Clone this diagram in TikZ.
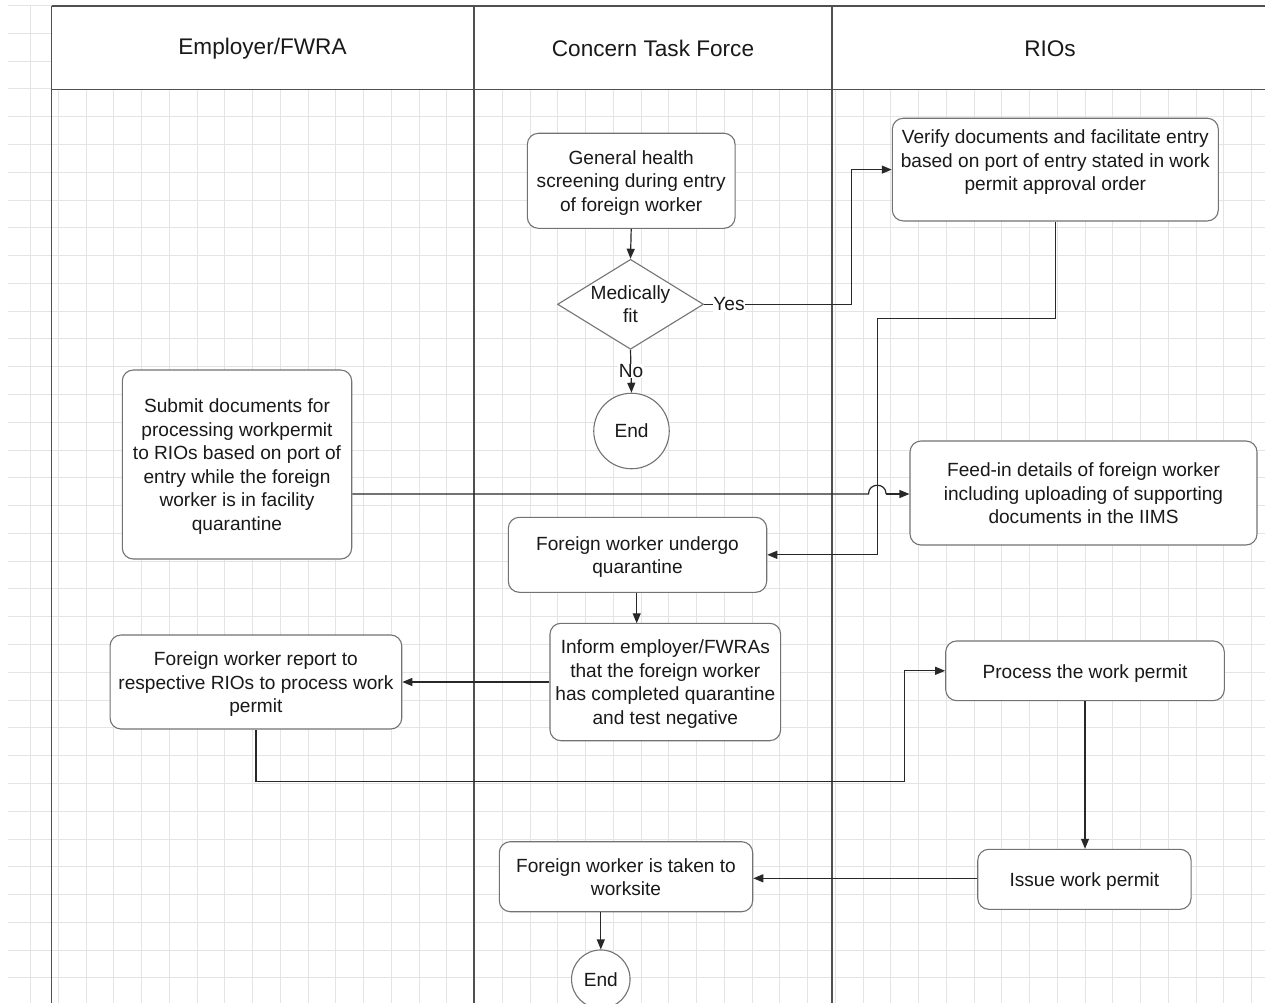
\documentclass[tikz,border=0pt]{standalone}
\usepackage{fontspec}
\setmainfont{Liberation Sans}
\usetikzlibrary{arrows.meta,shapes.geometric}
\definecolor{gridc}{RGB}{228,228,228}
\definecolor{boxc}{RGB}{115,115,115}
\definecolor{lanec}{RGB}{80,80,80}
\definecolor{linec}{RGB}{40,40,40}
\definecolor{txt}{RGB}{25,25,25}
\newcommand{\mtxt}[1]{\raisebox{-2.5pt}[\height][\depth]{\begin{tabular}{@{}c@{}}#1\end{tabular}}}
\begin{document}
\begin{tikzpicture}[x=1pt,y=-1pt,
  bodyf/.style={font=\fontsize{19.1}{23.5}\selectfont, text=txt},
  box/.style={bodyf, draw=boxc, line width=1.1pt, fill=white, rounded corners=11pt, inner sep=0pt},
  endc/.style={bodyf, draw=boxc, line width=1.1pt, fill=white, circle, inner sep=0pt},
  dec/.style={bodyf, draw=boxc, line width=1.1pt, fill=white, diamond, aspect=1.62, align=center, inner sep=0pt, minimum width=146pt, minimum height=90pt},
  head/.style={font=\fontsize{22.6}{27}\selectfont, text=txt},
  lbl/.style={bodyf, fill=white, inner sep=0.6pt},
  conn/.style={draw=linec, line width=1.2pt, -{Triangle[length=10pt,width=8pt]}},
  plain/.style={draw=linec, line width=1.2pt},
  lane/.style={draw=lanec, line width=1.4pt}]
\useasboundingbox (0,0) rectangle (1265,1003);
\fill[white] (0,0) rectangle (1265,1003);
% grid
\foreach \i in {1,...,45} \draw[gridc, line width=1pt] ({2.95+27.75*\i},6) -- ({2.95+27.75*\i},1003);
\foreach \j in {0,...,35} \draw[gridc, line width=1pt] (8,{5.6+27.78*\j}) -- (1265,{5.6+27.78*\j});
% header
\fill[white] (51.5,6) rectangle (1265,89.5);
\draw[lane] (51.5,6) -- (1265,6);
\draw[lane] (51.5,89.5) -- (1265,89.5);
\draw[lane] (51.5,6) -- (51.5,1003);
\draw[lane] (474,6) -- (474,1003);
\draw[lane] (832,6) -- (832,1003);
\node[head] (h1) at (262.5,48.5) {Employer/FWRA};
\node[head] (h2) at (653,48.5) {Concern Task Force};
\node[head] (h3) at (1050,48.5) {RIOs};

% nodes
\node[box, minimum width=207.7pt, minimum height=95pt] (health) at (631.2,180.8) {\mtxt{General health\\screening during entry\\of foreign worker}};
\node[dec] (dia) at (630.5,304.3) {Medically\\fit};
\node[endc, minimum size=75.5pt] (end1) at (631.5,431) {End};
\node[box, minimum width=326pt, minimum height=102.7pt] (verify) at (1055.3,169.6) {};
\node[bodyf, inner sep=0pt] (verifyt) at (1055.3,160) {\mtxt{Verify documents and facilitate entry\\based on port of entry stated in work\\permit approval order}};
\node[box, minimum width=229.4pt, minimum height=189pt] (submit) at (237,464.5) {\mtxt{Submit documents for\\processing workpermit\\to RIOs based on port of\\entry while the foreign\\worker is in facility\\quarantine}};
\node[box, minimum width=347pt, minimum height=104pt] (feed) at (1083.5,493) {\mtxt{Feed-in details of foreign worker\\including uploading of supporting\\documents in the IIMS}};
\node[box, minimum width=258.4pt, minimum height=75pt] (quar) at (637.5,554.8) {\mtxt{Foreign worker undergo\\quarantine}};
\node[box, minimum width=230.7pt, minimum height=117.4pt] (inform) at (665.3,682) {\mtxt{Inform employer/FWRAs\\that the foreign worker\\has completed quarantine\\and test negative}};
\node[box, minimum width=291.7pt, minimum height=94pt] (report) at (255.9,682) {\mtxt{Foreign worker report to\\respective RIOs to process work\\permit}};
\node[box, minimum width=278.6pt, minimum height=59.7pt] (process) at (1085,670.8) {\mtxt{Process the work permit}};
\node[box, minimum width=213.3pt, minimum height=60pt] (issue) at (1084.4,879.3) {\mtxt{Issue work permit}};
\node[box, minimum width=253.4pt, minimum height=70pt] (work) at (626,876.7) {\mtxt{Foreign worker is taken to\\worksite}};
\node[endc, minimum size=58.5pt] (end2) at (600.8,979.2) {End};

% waypoints
\coordinate (yx) at (851.7,304.3);
\coordinate (c1) at (877.3,318.3);
\coordinate (c2) at (904.3,781.7);
\coordinate (j1) at (868.5,494);
\coordinate (j2) at (886.1,494);

% connectors
\draw[conn] (health.south) -- (dia.north);
\draw[plain] (dia.east) -- (yx);
\draw[conn] (yx) |- (verify.west);
\node[lbl] (yes) at (729,304.3) {Yes};
\draw[conn] (dia.south) -- (end1.north);
\node[lbl] (no) at (631,371) {No};
\draw[conn] (verify.south) |- (c1) |- (quar.east);
\draw[plain] (submit.east |- j1) -- (j1) .. controls (868.5,482.3) and (886.1,482.3) .. (j2);
\draw[conn] (j2) -- (feed.west |- j2);
\draw[conn] (quar.south -| 636.7,0) -- (636.7,623.3);
\draw[conn] (inform.west) -- (inform.west -| report.east);
\draw[conn] (report.south) |- (c2) |- (process.west);
\draw[conn] (process.south) -- (process.south |- issue.north);
\draw[conn] (issue.west |- 0,878.3) -- (work.east |- 0,878.3);
\draw[conn] (end2.north |- work.south) -- (end2.north);
\end{tikzpicture}
\end{document}
